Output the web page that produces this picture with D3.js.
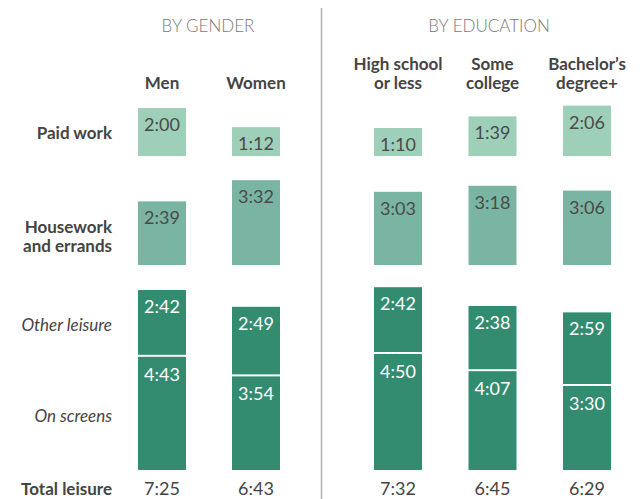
<!DOCTYPE html>
<html><head><meta charset="utf-8">
<script src="https://cdn.jsdelivr.net/npm/d3@7"></script>
<style>
html,body{margin:0;padding:0;background:#fff;}
svg{display:block;font-family:Lato,"Open Sans",sans-serif;}
</style></head>
<body>
<svg id="chart" width="641" height="499"></svg>
<script>
// ---- data ----
const genderGroups = ["Men", "Women"];
const eduGroups = ["High school\nor less", "Some\ncollege", "Bachelor\u2019s\ndegree+"];
const groups = genderGroups.concat(eduGroups);
const paidWork   = [120, 72, 70, 99, 126];   // minutes
const housework  = [159, 212, 183, 198, 186];
const otherLeis  = [162, 169, 162, 158, 179];
const onScreens  = [283, 234, 290, 247, 210];
const sectionTitles = ["BY GENDER", "BY EDUCATION"];
const rowLabels = ["Paid work", "Housework\nand errands", "Other leisure", "On screens", "Total leisure"];

const fmt = m => Math.floor(m / 60) + ":" + String(m % 60).padStart(2, "0");

const svg = d3.select("#chart");
const ink = "#444";
const cPaid = "#9ecfb8", cHouse = "#7ab5a3", cLeis = "#338c70";

const h = d3.scaleLinear().domain([0, 600]).range([0, 240]);
const xG = d3.scalePoint().domain(genderGroups).range([162, 256]);
const xE = d3.scalePoint().domain(eduGroups).range([398, 587]);
const x = g => genderGroups.includes(g) ? xG(g) : xE(g);
const bw = 48;

const paidBase = 156, houseBase = 265, leisBase = 470;

// divider
svg.append("line").attr("x1", 321.5).attr("x2", 321.5).attr("y1", 8).attr("y2", 499)
  .attr("stroke", "#b0b0b0").attr("stroke-width", 1.5);

// section titles
svg.selectAll("text.sec").data(sectionTitles).enter().append("text")
  .attr("class", "sec")
  .attr("x", (d, i) => i === 0 ? 208 : 489).attr("y", 32)
  .attr("text-anchor", "middle").attr("fill", "#7a7a7a")
  .attr("font-size", 17).attr("font-weight", 300).text(d => d);

// column headers
groups.forEach(g => {
  const lines = g.split("\n");
  const t = svg.append("text").attr("text-anchor", "middle").attr("fill", ink)
    .attr("font-size", 17).attr("font-weight", 700);
  lines.forEach((l, i) => {
    t.append("tspan").attr("x", x(g))
      .attr("y", 89 - (lines.length - 1 - i) * 19).text(l);
  });
});

// row labels
const rowY = [[139], [233, 252], [331], [422], [495]];
rowLabels.forEach((r, i) => {
  const t = svg.append("text").attr("text-anchor", "end").attr("fill", ink)
    .attr("font-size", 17)
    .attr("font-weight", (i === 2 || i === 3) ? 400 : 700)
    .attr("font-style", (i === 2 || i === 3) ? "italic" : "normal");
  r.split("\n").forEach((l, j) => t.append("tspan").attr("x", 112).attr("y", rowY[i][j]).text(l));
});

function barWithLabel(val, i, base, color, txtColor) {
  const top = base - h(val);
  svg.append("rect").attr("x", x(groups[i]) - bw / 2).attr("y", top)
    .attr("width", bw).attr("height", h(val)).attr("fill", color);
  svg.append("text").attr("x", x(groups[i])).attr("y", top + 23)
    .attr("text-anchor", "middle").attr("fill", txtColor)
    .attr("font-size", 18).text(fmt(val));
}

groups.forEach((g, i) => {
  barWithLabel(paidWork[i], i, paidBase, cPaid, "#4a4a4a");
  barWithLabel(housework[i], i, houseBase, cHouse, "#4a4a4a");
  // leisure stack
  const scrTop = leisBase - h(onScreens[i]);
  const othTop = scrTop - 2 - h(otherLeis[i]);
  svg.append("rect").attr("x", x(g) - bw / 2).attr("y", othTop)
    .attr("width", bw).attr("height", h(otherLeis[i])).attr("fill", cLeis);
  svg.append("rect").attr("x", x(g) - bw / 2).attr("y", scrTop)
    .attr("width", bw).attr("height", h(onScreens[i])).attr("fill", cLeis);
  svg.append("text").attr("x", x(g)).attr("y", othTop + 23).attr("text-anchor", "middle")
    .attr("fill", "#fff").attr("font-size", 18).text(fmt(otherLeis[i]));
  svg.append("text").attr("x", x(g)).attr("y", scrTop + 24).attr("text-anchor", "middle")
    .attr("fill", "#fff").attr("font-size", 18).text(fmt(onScreens[i]));
  // total
  svg.append("text").attr("x", x(g)).attr("y", 495).attr("text-anchor", "middle")
    .attr("fill", ink).attr("font-size", 18).text(fmt(otherLeis[i] + onScreens[i]));
});
</script>
</body></html>
